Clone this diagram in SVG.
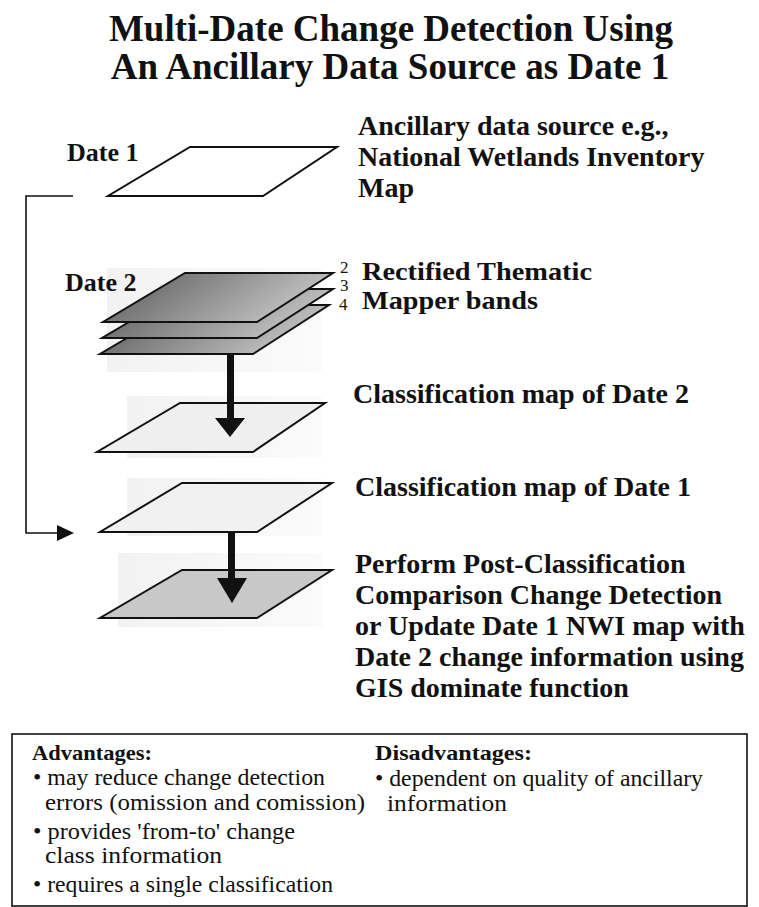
<svg xmlns="http://www.w3.org/2000/svg" width="759" height="907" viewBox="0 0 759 907">
<style>
.t{font-family:"Liberation Serif","Times New Roman",serif;font-weight:bold;fill:#111}
.r{font-family:"Liberation Serif","Times New Roman",serif;fill:#111}
.map{stroke:#111;stroke-width:2;stroke-linejoin:miter}
.conn{stroke:#111;fill:none}
</style>
<defs>
<linearGradient id="band" x1="0" y1="0" x2="1" y2="0.3">
<stop offset="0" stop-color="#555"/>
<stop offset="1" stop-color="#c4c4c4"/>
</linearGradient>
<linearGradient id="bg" x1="0" y1="0" x2="1" y2="0">
<stop offset="0" stop-color="#f2f2f2"/>
<stop offset="1" stop-color="#fbfbfb"/>
</linearGradient>
</defs>
<rect width="759" height="907" fill="#fff"/>
<g id="title">
<text class="t" x="391" y="41" font-size="37" text-anchor="middle">Multi-Date Change Detection Using</text>
<text class="t" x="390" y="79" font-size="37" text-anchor="middle">An Ancillary Data Source as Date 1</text>
</g>
<g id="date1">
<text class="t" x="67" y="161" font-size="26">Date 1</text>
<polygon class="map" points="190,147 337,147 263,196 108,196" fill="#fff"/>
<text class="t" font-size="28" x="358" y="135">Ancillary data source e.g.,</text>
<text class="t" font-size="28" x="358" y="166">National Wetlands Inventory</text>
<text class="t" font-size="28" x="358" y="197">Map</text>
</g>
<g id="date2">
<rect x="107" y="268" width="215" height="104" fill="url(#bg)"/>
<text class="t" x="65" y="291" font-size="26">Date 2</text>
<polygon class="map" points="183,305 329,305 253,354 100,354" fill="url(#band)"/>
<polygon class="map" points="185,289 333,289 257,338 102,338" fill="url(#band)"/>
<polygon class="map" points="185,273 333,273 257,322 103,322" fill="url(#band)"/>
<text class="r" font-size="17" x="340" y="273">2</text>
<text class="r" font-size="17" x="340" y="291">3</text>
<text class="r" font-size="17" x="339" y="310">4</text>
<text class="t" font-size="25" x="362" y="280" textLength="230" lengthAdjust="spacingAndGlyphs">Rectified Thematic</text>
<text class="t" font-size="25" x="362" y="309" textLength="176" lengthAdjust="spacingAndGlyphs">Mapper bands</text>
</g>
<g id="class2">
<rect x="127" y="396" width="195" height="62" fill="url(#bg)"/>
<polygon class="map" points="180,403 325,403 253,452 97,452" fill="#efefef"/>
<text class="t" font-size="28" x="353" y="403">Classification map of Date 2</text>
</g>
<g id="class1">
<rect x="127" y="478" width="195" height="58" fill="url(#bg)"/>
<polygon class="map" points="182,483 332,483 257,532 100,532" fill="#f1f1f1"/>
<text class="t" font-size="28" x="355" y="496">Classification map of Date 1</text>
</g>
<g id="result">
<rect x="118" y="553" width="205" height="74" fill="url(#bg)"/>
<polygon class="map" points="182,570 332,570 257,618 100,618" fill="#c8c8c8"/>
<text class="t" font-size="28" x="355" y="573">Perform Post-Classification</text>
<text class="t" font-size="28" x="355" y="604">Comparison Change Detection</text>
<text class="t" font-size="28" x="355" y="635">or Update Date 1 NWI map with</text>
<text class="t" font-size="28" x="355" y="666">Date 2 change information using</text>
<text class="t" font-size="28" x="355" y="697">GIS dominate function</text>
</g>
<g id="connectors">
<polyline class="conn" stroke-width="1.6" points="73,196 26,196 26,533 60,533"/>
<polygon points="57,525 74,533 57,541" fill="#111"/>
<rect x="227" y="354" width="7" height="66" fill="#111"/>
<polygon points="215,418 245,418 230,437" fill="#111"/>
<rect x="228" y="532" width="7" height="48" fill="#111"/>
<polygon points="217,578 247,578 232,603" fill="#111"/>
</g>
<g id="summary">
<rect x="12" y="734" width="735" height="172" fill="none" stroke="#111" stroke-width="1.6"/>
<text class="t" font-size="22" x="32" y="760" textLength="120" lengthAdjust="spacingAndGlyphs">Advantages:</text>
<text class="r" font-size="24" x="33" y="785" textLength="292" lengthAdjust="spacingAndGlyphs">• may reduce change detection</text>
<text class="r" font-size="24" x="45" y="810" textLength="320" lengthAdjust="spacingAndGlyphs">errors (omission and comission)</text>
<text class="r" font-size="24" x="33" y="839" textLength="262" lengthAdjust="spacingAndGlyphs">• provides 'from-to' change</text>
<text class="r" font-size="24" x="45" y="863" textLength="177" lengthAdjust="spacingAndGlyphs">class information</text>
<text class="r" font-size="24" x="33" y="892" textLength="300" lengthAdjust="spacingAndGlyphs">• requires a single classification</text>
<text class="t" font-size="22" x="375" y="760" textLength="157" lengthAdjust="spacingAndGlyphs">Disadvantages:</text>
<text class="r" font-size="24" x="375" y="786" textLength="328" lengthAdjust="spacingAndGlyphs">• dependent on quality of ancillary</text>
<text class="r" font-size="24" x="387" y="811" textLength="120" lengthAdjust="spacingAndGlyphs">information</text>
</g>
</svg>
